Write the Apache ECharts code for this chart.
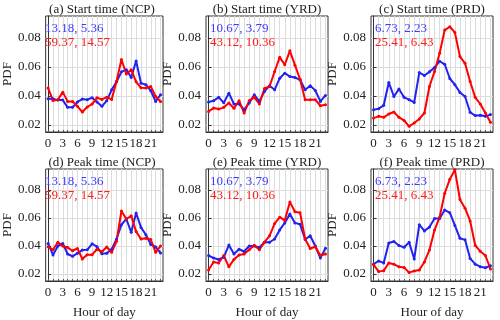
<!DOCTYPE html>
<html>
<head>
<meta charset="utf-8">
<script src="https://cdn.jsdelivr.net/npm/echarts@6/dist/echarts.min.js"></script>
<style>
html,body{margin:0;padding:0;background:#fff;}
#main{width:500px;height:320px;}
</style>
</head>
<body>
<div id="main"></div>
<script>
// hours of day
var hours = [0,1,2,3,4,5,6,7,8,9,10,11,12,13,14,15,16,17,18,19,20,21,22,23];
var hourLabels = [0,3,6,9,12,15,18,21];
var pdfTicks = [0.02,0.04,0.06,0.08];

var titles = ['(a) Start time (NCP)','(b) Start time (YRD)','(c) Start time (PRD)',
              '(d) Peak time (NCP)','(e) Peak time (YRD)','(f) Peak time (PRD)'];
var statsBlue = ['13.18, 5.36','10.67, 3.79','6.73, 2.23'];
var statsRed = ['59.37, 14.57','43.12, 10.36','25.41, 6.43'];

// start time
var startNcpBlue = [0.038,0.038,0.037,0.037,0.032,0.032,0.0357,0.0377,0.0373,0.0386,0.0357,0.0327,0.0366,0.0441,0.0496,0.0565,0.058,0.0526,0.064,0.0487,0.0476,0.0434,0.0361,0.0407];
var startNcpRed  = [0.0453,0.0368,0.0373,0.0425,0.0361,0.0361,0.0327,0.0288,0.0322,0.0343,0.0386,0.0375,0.039,0.0375,0.050,0.065,0.055,0.058,0.0496,0.0455,0.0453,0.0464,0.0395,0.036];
var startYrdBlue = [0.0357,0.0366,0.0389,0.0352,0.0418,0.0343,0.0343,0.0304,0.035,0.0407,0.0361,0.043,0.0469,0.0441,0.0521,0.0556,0.0533,0.0526,0.051,0.0441,0.0469,0.0437,0.0361,0.0402];
var startYrdRed  = [0.0292,0.0315,0.0308,0.032,0.035,0.0313,0.0366,0.0281,0.0366,0.0389,0.0343,0.045,0.0464,0.0567,0.0665,0.0614,0.071,0.0611,0.0514,0.0373,0.0373,0.0373,0.0331,0.0338];
var startPrdBlue = [0.0304,0.0311,0.0334,0.0492,0.0395,0.0446,0.0389,0.0373,0.0354,0.056,0.054,0.0565,0.0594,0.0638,0.0617,0.0519,0.0476,0.0423,0.0395,0.0286,0.0263,0.0265,0.0258,0.027];
var startPrdRed  = [0.0246,0.0258,0.0251,0.0274,0.0288,0.0251,0.023,0.0189,0.0212,0.024,0.0281,0.0464,0.0567,0.0693,0.0853,0.0876,0.0837,0.067,0.0624,0.0498,0.0389,0.0343,0.0281,0.0217];
// peak time
var peakNcpBlue = [0.0418,0.0336,0.04,0.0418,0.0343,0.0327,0.0348,0.0371,0.0373,0.0416,0.0395,0.0345,0.0348,0.0377,0.045,0.0552,0.0593,0.0498,0.0636,0.0533,0.048,0.0411,0.0393,0.035];
var peakNcpRed  = [0.0395,0.0373,0.0427,0.04,0.0389,0.0366,0.0382,0.0308,0.0338,0.0338,0.0377,0.0359,0.0393,0.0355,0.0434,0.065,0.0593,0.0616,0.0503,0.045,0.0455,0.0446,0.0355,0.04];
var peakYrdBlue = [0.0332,0.0314,0.0304,0.032,0.0407,0.0343,0.0377,0.0361,0.04,0.04,0.0389,0.0427,0.0427,0.045,0.0515,0.0565,0.0629,0.0565,0.0556,0.0446,0.0473,0.04,0.0314,0.0384];
var peakYrdRed  = [0.0228,0.0286,0.0279,0.0332,0.0251,0.0304,0.0336,0.0343,0.0373,0.0405,0.0373,0.0427,0.0473,0.056,0.0606,0.0583,0.0715,0.0645,0.0638,0.045,0.0382,0.0395,0.0332,0.0343];
var peakPrdBlue = [0.027,0.0293,0.0279,0.0421,0.0432,0.0403,0.0391,0.0426,0.0307,0.0552,0.0508,0.0535,0.0597,0.0597,0.0657,0.0638,0.0547,0.0455,0.0444,0.0311,0.027,0.0252,0.0245,0.0259];
var peakPrdRed  = [0.0267,0.0217,0.0224,0.0279,0.027,0.0251,0.0247,0.021,0.0222,0.0228,0.0286,0.0371,0.0514,0.0606,0.0777,0.0876,0.0944,0.0732,0.067,0.0579,0.0405,0.0362,0.0332,0.0236];

var blueSets = [startNcpBlue,startYrdBlue,startPrdBlue,peakNcpBlue,peakYrdBlue,peakPrdBlue];
var redSets  = [startNcpRed,startYrdRed,startPrdRed,peakNcpRed,peakYrdRed,peakPrdRed];

var font = 'Liberation Serif';
var blue = '#2222f0', red = '#ff0000';
var lefts = [41,206,371], tops = [16,169], heights = [116,115];

var grids=[], xAxes=[], yAxes=[], series=[], titleList=[], graphics=[];
for (var i=0;i<6;i++){
    var c=i%3, r=Math.floor(i/3);
    grids.push({left:lefts[c],top:tops[r],width:122,height:heights[r],show:true,
        borderColor:'#333',borderWidth:1,backgroundColor:'#fff'});
    xAxes.push({type:'value',gridIndex:i,min:-0.5,max:23.5,
        name:r==1?'Hour of day':'',nameLocation:'middle',nameGap:25,
        nameTextStyle:{fontFamily:font,fontSize:13,color:'#222'},
        axisLine:{lineStyle:{color:'#333'}},
        axisTick:{inside:true,length:2,customValues:hours,lineStyle:{color:'#555'}},
        axisLabel:{customValues:hourLabels,margin:5,fontFamily:font,fontSize:13,color:'#222'},
        splitLine:{show:true,lineStyle:{color:'#dcdcdc',width:1}}});
    yAxes.push({type:'value',gridIndex:i,min:0.015,max:0.095,
        name:'PDF',nameLocation:'middle',nameGap:30,
        nameTextStyle:{fontFamily:font,fontSize:13,color:'#222'},
        axisLine:{lineStyle:{color:'#333'}},
        axisTick:{inside:true,length:3,customValues:pdfTicks,lineStyle:{color:'#333'}},
        axisLabel:{customValues:pdfTicks,margin:5,fontFamily:font,fontSize:13,color:'#222',
            formatter:function(v){return v.toFixed(2);}},
        splitLine:{show:true,lineStyle:{color:'#dcdcdc',width:1}}});
    series.push({type:'line',xAxisIndex:i,yAxisIndex:i,symbol:'circle',symbolSize:3,
        lineStyle:{color:blue,width:2},itemStyle:{color:blue},
        data:hours.map(function(h,k){return [h,blueSets[i][k]];})});
    series.push({type:'line',xAxisIndex:i,yAxisIndex:i,symbol:'circle',symbolSize:3,
        lineStyle:{color:red,width:2},itemStyle:{color:red},
        data:hours.map(function(h,k){return [h,redSets[i][k]];})});
    titleList.push({text:titles[i],left:lefts[c]+61,top:tops[r]-13,textAlign:'center',padding:0,
        textStyle:{fontFamily:font,fontSize:13,fontWeight:'normal',color:'#222'}});
    graphics.push({type:'text',left:lefts[c]+4,top:tops[r]+6,z:100,
        style:{text:statsBlue[c],font:'13px "Liberation Serif"',fill:'#3a3aff'}});
    graphics.push({type:'text',left:lefts[c]+4,top:tops[r]+20,z:100,
        style:{text:statsRed[c],font:'13px "Liberation Serif"',fill:'#ff1a1a'}});
}

var chart = echarts.init(document.getElementById('main'));
chart.setOption({
    animation:false,
    title:titleList,
    grid:grids,
    xAxis:xAxes,
    yAxis:yAxes,
    series:series,
    graphic:graphics
});
</script>
</body>
</html>
